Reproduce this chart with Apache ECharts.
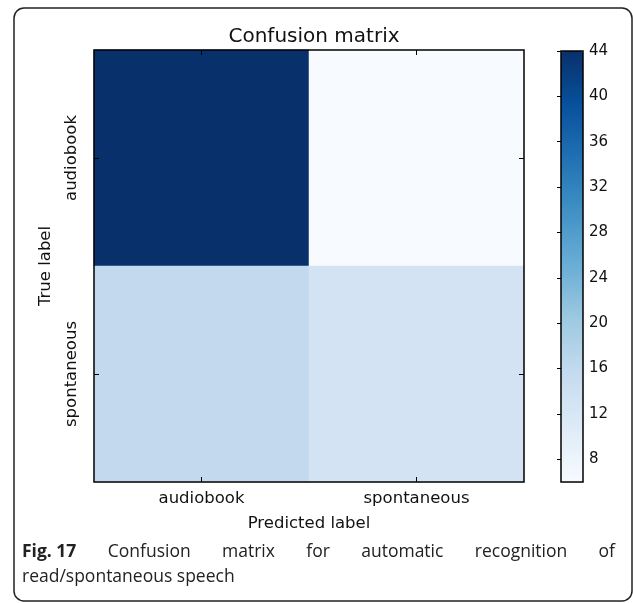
<!DOCTYPE html>
<html><head><meta charset="utf-8">
<script src="https://cdn.jsdelivr.net/npm/echarts@6/dist/echarts.min.js"></script>
<style>html,body{margin:0;padding:0;background:#fff}#c{width:633px;height:603px}</style>
</head><body><div id="c"></div>
<script>
// ---- data ----
const predictedLabels = ['audiobook', 'spontaneous'];
const trueLabels = ['audiobook', 'spontaneous'];
const rowAudiobook = [44, 6];      // true = audiobook
const rowSpontaneous = [16, 13];   // true = spontaneous
const colorbarTicks = [8, 12, 16, 20, 24, 28, 32, 36, 40, 44];
const colorMin = 6, colorMax = 44;
const titleText = 'Confusion matrix';
const xName = 'Predicted label';
const yName = 'True label';
const captionBold = 'Fig. 17';
const captionLine1 = 'Confusion matrix for automatic recognition of';
const captionLine2 = 'read/spontaneous speech';
const blues = ['#f7fbff','#deebf7','#c6dbef','#9ecae1','#6baed6','#4292c6','#2171b5','#08519c','#08306b'];

const rows = [rowAudiobook, rowSpontaneous];
const heatData = [];
rows.forEach((r, yi) => r.forEach((v, xi) => heatData.push([xi, yi, v])));

const FONT = 'DejaVu Sans';
const CAP_FONT = 'Open Sans';
const CAP_SIZE = 17.5;

// caption justified layout
const cv = document.createElement('canvas').getContext('2d');
function w(text, bold) { cv.font = (bold ? 'bold ' : '') + CAP_SIZE + 'px "' + CAP_FONT + '"'; return cv.measureText(text).width; }
const capLeft = 22, capRight = 615, cap1Y = 552, cap2Y = 577;
const words1 = [{t: captionBold, b: true}].concat(captionLine1.split(' ').map(t => ({t, b: false})));
const totalW = words1.reduce((s, o) => s + w(o.t, o.b), 0);
const gap = (capRight - capLeft - totalW) / (words1.length - 1);
const graphics = [];
let cx = capLeft;
words1.forEach(o => {
  graphics.push({type: 'text', x: cx, y: cap1Y, style: {text: o.t, font: (o.b ? 'bold ' : '') + CAP_SIZE + 'px "' + CAP_FONT + '"', fill: '#222', textVerticalAlign: 'middle'}});
  cx += w(o.t, o.b) + gap;
});
graphics.push({type: 'text', x: capLeft, y: cap2Y, style: {text: captionLine2, font: CAP_SIZE + 'px "' + CAP_FONT + '"', fill: '#222', textVerticalAlign: 'middle'}});
graphics.push({type: 'rect', shape: {x: 14, y: 8, width: 618, height: 593, r: 10}, style: {fill: 'none', stroke: '#222', lineWidth: 1.5}, z: -1});

const tickStyle = {show: true, inside: true, length: 5, alignWithLabel: true, lineStyle: {color: '#000', width: 1}};
const chart = echarts.init(document.getElementById('c'));
chart.setOption({
  animation: false,
  backgroundColor: '#fff',
  textStyle: {fontFamily: FONT},
  title: {text: titleText, left: 309, top: 22, textAlign: 'center', textStyle: {fontFamily: FONT, fontSize: 20, fontWeight: 'normal', color: '#111'}},
  grid: [
    {left: 94, top: 50, width: 430, height: 432, show: true, borderColor: '#000', borderWidth: 1.5, backgroundColor: 'transparent', z: 5},
    {left: 561, top: 51, width: 22, height: 431, show: true, borderColor: '#000', borderWidth: 1.5, backgroundColor: 'transparent', z: 10}
  ],
  xAxis: [
    {type: 'category', data: predictedLabels, gridIndex: 0, position: 'bottom', axisLine: {show: false}, axisTick: tickStyle,
     axisLabel: {fontSize: 16.5, color: '#111', margin: 8, fontFamily: FONT}, name: xName, nameLocation: 'middle', nameGap: 33,
     nameTextStyle: {fontSize: 16.5, color: '#111', fontFamily: FONT}, splitLine: {show: false}, z: 10},
    {type: 'category', data: predictedLabels, gridIndex: 0, position: 'top', axisLine: {show: false}, axisTick: tickStyle,
     axisLabel: {show: false}, splitLine: {show: false}, z: 10},
    {type: 'value', gridIndex: 1, min: 0, max: 1, show: false}
  ],
  yAxis: [
    {type: 'category', data: trueLabels, gridIndex: 0, inverse: true, position: 'left', axisLine: {show: false}, axisTick: tickStyle,
     axisLabel: {fontSize: 16.5, color: '#111', rotate: 90, margin: 14, fontFamily: FONT}, name: yName, nameLocation: 'middle', nameGap: 40,
     nameTextStyle: {fontSize: 16.5, color: '#111', fontFamily: FONT}, splitLine: {show: false}, z: 10},
    {type: 'category', data: trueLabels, gridIndex: 0, inverse: true, position: 'right', axisLine: {show: false}, axisTick: tickStyle,
     axisLabel: {show: false}, splitLine: {show: false}, z: 10},
    {type: 'value', gridIndex: 1, min: colorMin, max: colorMax, position: 'right', axisLine: {show: false}, splitLine: {show: false},
     axisTick: {show: true, inside: true, length: 4, customValues: colorbarTicks, lineStyle: {color: '#000'}},
     axisLabel: {customValues: colorbarTicks, fontSize: 15, color: '#111', margin: 6, fontFamily: FONT}, z: 10}
  ],
  visualMap: {
    type: 'continuous', min: colorMin, max: colorMax, seriesIndex: 0, calculable: false, orient: 'vertical',
    left: 561, top: 51, itemWidth: 22, itemHeight: 431, padding: 0, text: null, showLabel: false,
    inRange: {color: blues}
  },
  series: [{type: 'heatmap', xAxisIndex: 0, yAxisIndex: 0, data: heatData, itemStyle: {borderWidth: 0}, emphasis: {disabled: true}}],
  graphic: graphics
});
</script></body></html>
